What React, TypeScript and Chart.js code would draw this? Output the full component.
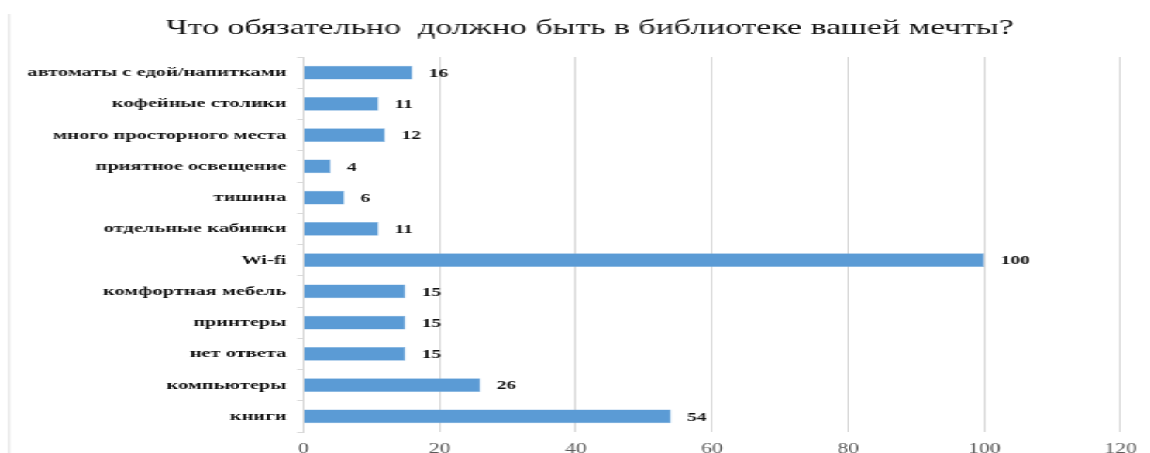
import React, { useEffect, useRef } from "react";
import { Chart, registerables } from "chart.js";

Chart.register(...registerables);

const title = "Что обязательно  должно быть в библиотеке вашей мечты?";
const categories = [
  "автоматы с едой/напитками",
  "кофейные столики",
  "много просторного места",
  "приятное освещение",
  "тишина",
  "отдельные кабинки",
  "Wi-fi",
  "комфортная мебель",
  "принтеры",
  "нет ответа",
  "компьютеры",
  "книги",
];
const values = [16, 11, 12, 4, 6, 11, 100, 15, 15, 15, 26, 54];
const xTicks = [0, 20, 40, 60, 80, 100, 120];

const S = 1.55; // horizontal stretch of the reference
const W = 1150 / S;
const H = 453;
const SERIF = "'Liberation Serif', 'Times New Roman', serif";

const decorPlugin = {
  id: "decor",
  beforeDraw(chart: any) {
    const ctx = chart.ctx;
    ctx.save();
    ctx.strokeStyle = "#d9d9d9";
    ctx.lineWidth = 1;
    ctx.beginPath();
    ctx.moveTo(9 / S, 14);
    ctx.lineTo(9 / S, H);
    ctx.stroke();
    ctx.fillStyle = "#111";
    ctx.font = `21.8px ${SERIF}`;
    ctx.textAlign = "center";
    ctx.textBaseline = "middle";
    ctx.fillText(title, 589 / S, 28);
    ctx.restore();
  },
  afterDatasetsDraw(chart: any) {
    const ctx = chart.ctx;
    const meta = chart.getDatasetMeta(0);
    ctx.save();
    ctx.fillStyle = "#111";
    ctx.font = `bold 12.5px ${SERIF}`;
    ctx.textAlign = "left";
    ctx.textBaseline = "middle";
    meta.data.forEach((bar: any, i: number) => {
      ctx.fillText(String(values[i]), bar.x + 10.5, bar.y + 1);
    });
    ctx.restore();
  },
};

export default function App() {
  const ref = useRef<HTMLCanvasElement>(null);
  useEffect(() => {
    if (!ref.current) return;
    const chart = new Chart(ref.current, {
      type: "bar",
      data: {
        labels: categories,
        datasets: [
          {
            data: values,
            backgroundColor: "#5b9bd5",
            borderColor: "#7fb1df",
            borderWidth: 0.6,
            barPercentage: 0.44,
            categoryPercentage: 1,
          },
        ],
      },
      options: {
        indexAxis: "y",
        animation: false,
        responsive: true,
        maintainAspectRatio: false,
        layout: { padding: { left: 0, right: W - 1119 / S, top: 57, bottom: 0 } },
        plugins: {
          legend: { display: false },
          tooltip: { enabled: false },
          title: { display: false },
        },
        scales: {
          x: {
            min: 0,
            max: 120,
            afterBuildTicks: (scale: any) => {
              scale.ticks = xTicks.map((v) => ({ value: v }));
            },
            afterFit: (scale: any) => {
              scale.height = H - 432;
            },
            grid: {
              color: (c: any) => (c.tick && c.tick.value === 0 ? "rgba(0,0,0,0)" : "#d9d9d9"),
              lineWidth: 1,
              drawTicks: false,
            },
            border: { display: false },
            ticks: {
              padding: 9,
              color: "#595959",
              font: { family: SERIF, size: 14 },
            },
          },
          y: {
            afterFit: (scale: any) => {
              scale.width = 303 / S;
            },
            grid: {
              drawOnChartArea: false,
              drawTicks: true,
              tickLength: 4,
              color: "#d9d9d9",
              offset: true,
            },
            border: { display: true, color: "#d9d9d9" },
            ticks: {
              padding: 7,
              color: "#111",
              font: { family: SERIF, size: 13.2, weight: "bold" },
            },
          },
        },
      },
      plugins: [decorPlugin],
    });
    return () => chart.destroy();
  }, []);
  return (
    <div
      style={{
        position: "absolute",
        left: 0,
        top: 0,
        width: W,
        height: H,
        transform: `scaleX(${S})`,
        transformOrigin: "0 0",
        background: "#fff",
      }}
    >
      <canvas ref={ref} />
    </div>
  );
}
